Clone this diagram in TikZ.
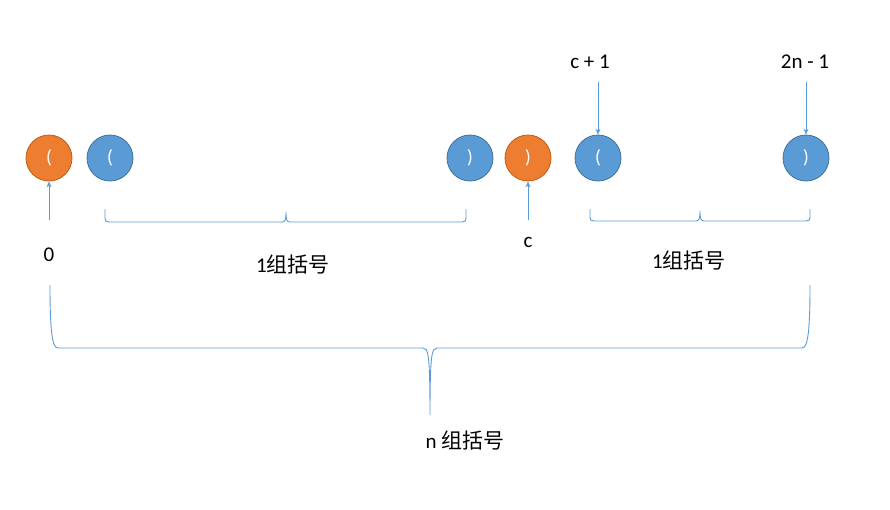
\documentclass[tikz,border=0pt]{standalone}
\usepackage{fontspec}
\setmainfont{Carlito}
\newfontfamily\cjk{Noto Sans CJK SC}
\usetikzlibrary{arrows.meta}
\definecolor{orng}{HTML}{ED7D31}
\definecolor{blu}{HTML}{5B9BD5}
\definecolor{bluedge}{HTML}{41719C}
\definecolor{orngedge}{HTML}{C55A11}
\begin{document}
\begin{tikzpicture}[x=1pt,y=-1pt,
  ball/.style={circle,minimum size=46pt,inner sep=0pt,text=white,font=\fontsize{19}{19}\selectfont,line width=0.8pt},
  ob/.style={ball,fill=orng,draw=orngedge},
  bb/.style={ball,fill=blu,draw=bluedge},
  lbl/.style={font=\fontsize{21}{23}\selectfont,text=black,inner sep=1pt},
  arr/.style={draw=blu,line width=0.9pt,-{Stealth[length=6pt,width=5pt]}},
  brc/.style={draw=blu,line width=0.9pt}]
\useasboundingbox (0,0) rectangle (890,509);
% balls
\node[ob] (o1) at (49,158) {(};
\node[bb] (b1) at (110,158) {(};
\node[bb] (b2) at (470,158) {)};
\node[ob] (o2) at (528,158) {)};
\node[bb] (b3) at (598,158) {(};
\node[bb] (b4) at (806,158) {)};
% labels
\node[lbl] (l0) at (49,255) {0};
\node[lbl] (lc) at (528,242) {c};
\node[lbl] (lc1) at (590,62) {c + 1};
\node[lbl] (l2n) at (805,62) {2n - 1};
\node[lbl] (g1) at (293,265) {1{\cjk\fontsize{21}{23}\selectfont 组括号}};
\node[lbl] (g2) at (689,261) {1{\cjk\fontsize{21}{23}\selectfont 组括号}};
\node[lbl] (gn) at (465,441) {n {\cjk\fontsize{21}{23}\selectfont 组括号}};
% arrow ends
\coordinate (a0) at (49,220);
\coordinate (ac) at (528,220);
\coordinate (ac1) at (598,82);
\coordinate (a2n) at (806,82);
\draw[arr] (a0) -- (o1.south);
\draw[arr] (ac) -- (o2.south);
\draw[arr] (ac1) -- (b3.north);
\draw[arr] (a2n) -- (b4.north);
% small braces
\draw[brc] (105,209) -- (105,218) .. controls (105,221) and (106,222) .. (109,222)
  -- (282,222) .. controls (285,222) and (286,220) .. (286,212)
  .. controls (286,220) and (287,222) .. (290,222)
  -- (462,222) .. controls (465,222) and (466,221) .. (466,218) -- (466,209);
\draw[brc] (590,209) -- (590,217) .. controls (590,220) and (591,221) .. (594,221)
  -- (696,221) .. controls (699,221) and (700,219) .. (700,211)
  .. controls (700,219) and (701,221) .. (704,221)
  -- (806,221) .. controls (809,221) and (810,220) .. (810,217) -- (810,209);
% big brace
\draw[brc] (50,285) .. controls (50,330) and (52,348) .. (58,348)
  -- (423,348) .. controls (428,348) and (430,352) .. (430,415)
  .. controls (430,352) and (432,348) .. (437,348)
  -- (802,348) .. controls (808,348) and (810,330) .. (810,285);
\end{tikzpicture}
\end{document}
